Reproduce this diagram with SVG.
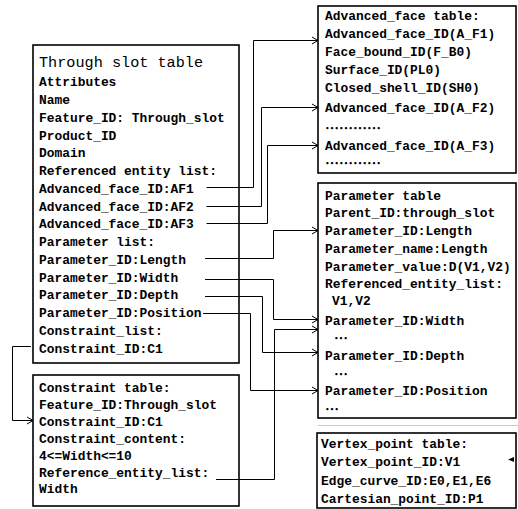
<svg xmlns="http://www.w3.org/2000/svg" width="518" height="509" viewBox="0 0 518 509">
  <style>
    .box { fill: #fff; stroke: #000; stroke-width: 1.6; }
    .t { font-family: "Liberation Mono", "DejaVu Sans Mono", monospace; font-size: 12.9px; font-weight: bold; fill: #000; }
    .title { font-family: "Liberation Mono", "DejaVu Sans Mono", monospace; font-size: 15.2px; fill: #000; }
    .dots { font-family: "Noto Sans CJK SC", sans-serif; font-size: 14px; font-weight: bold; fill: #000; dominant-baseline: central; }
    .wire { fill: none; stroke: #000; stroke-width: 1; }
  </style>
  <defs>
    <marker id="arrow" markerUnits="userSpaceOnUse" markerWidth="10" markerHeight="10" viewBox="-8 -5 10 10" refX="0" refY="0" orient="auto">
      <path d="M-6,-3.5 L0,0 L-6,3.5" fill="none" stroke="#000" stroke-width="1"/>
    </marker>
  </defs>
  <rect width="518" height="509" fill="#fff"/>

  <!-- Through slot feature table -->
  <g id="through-slot">
    <rect class="box" x="33" y="45" width="206" height="318"/>
    <text class="title" x="39" y="67">Through slot table</text>
    <text class="t" x="39" y="86.2">Attributes</text>
    <text class="t" x="39" y="104">Name</text>
    <text class="t" x="39" y="121.7">Feature_ID: Through_slot</text>
    <text class="t" x="39" y="139.5">Product_ID</text>
    <text class="t" x="39" y="157.3">Domain</text>
    <text class="t" x="39" y="175">Referenced entity list:</text>
    <text class="t" x="39" y="192.8">Advanced_face_ID:AF1</text>
    <text class="t" x="39" y="210.6">Advanced_face_ID:AF2</text>
    <text class="t" x="39" y="228.4">Advanced_face_ID:AF3</text>
    <text class="t" x="39" y="246.1">Parameter list:</text>
    <text class="t" x="39" y="263.9">Parameter_ID:Length</text>
    <text class="t" x="39" y="281.7">Parameter_ID:Width</text>
    <text class="t" x="39" y="299.4">Parameter_ID:Depth</text>
    <text class="t" x="39" y="317.2">Parameter_ID:Position</text>
    <text class="t" x="39" y="335">Constraint_list:</text>
    <text class="t" x="39" y="352.8">Constraint_ID:C1</text>
  </g>

  <!-- Constraint table -->
  <g id="constraint">
    <rect class="box" x="33" y="375" width="206" height="131"/>
    <text class="t" x="39" y="392">Constraint table:</text>
    <text class="t" x="39" y="408.9">Feature_ID:Through_slot</text>
    <text class="t" x="39" y="425.8">Constraint_ID:C1</text>
    <text class="t" x="39" y="442.7">Constraint_content:</text>
    <text class="t" x="39" y="459.6">4&lt;=Width&lt;=10</text>
    <text class="t" x="39" y="476.5">Reference_entity_list:</text>
    <text class="t" x="39" y="493.4">Width</text>
  </g>

  <!-- Advanced face table -->
  <g id="advanced-face">
    <rect class="box" x="318" y="6" width="198" height="167"/>
    <text class="t" x="325" y="19.5">Advanced_face table:</text>
    <text class="t" x="325" y="37.5">Advanced_face_ID(A_F1)</text>
    <text class="t" x="325" y="55.5">Face_bound_ID(F_B0)</text>
    <text class="t" x="325" y="73.5">Surface_ID(PL0)</text>
    <text class="t" x="325" y="91.5">Closed_shell_ID(SH0)</text>
    <text class="t" x="325" y="111.5">Advanced_face_ID(A_F2)</text>
    <text class="dots" x="325" y="127">…………</text>
    <text class="t" x="325" y="149.5">Advanced_face_ID(A_F3)</text>
    <text class="dots" x="325" y="162">…………</text>
  </g>

  <!-- Parameter table -->
  <g id="parameter">
    <rect class="box" x="318" y="183" width="198" height="235"/>
    <text class="t" x="325" y="199.5">Parameter table</text>
    <text class="t" x="325" y="217.2">Parent_ID:through_slot</text>
    <text class="t" x="325" y="234.5">Parameter_ID:Length</text>
    <text class="t" x="325" y="252.8">Parameter_name:Length</text>
    <text class="t" x="325" y="270.5">Parameter_value:D(V1,V2)</text>
    <text class="t" x="325" y="287.8">Referenced_entity_list:</text>
    <text class="t" x="332" y="305.2">V1,V2</text>
    <text class="t" x="325" y="324.5">Parameter_ID:Width</text>
    <text class="dots" x="334" y="337">…</text>
    <text class="t" x="325" y="359.5">Parameter_ID:Depth</text>
    <text class="dots" x="334" y="373">…</text>
    <text class="t" x="325" y="394.5">Parameter_ID:Position</text>
    <text class="dots" x="325" y="408">…</text>
  </g>

  <!-- Vertex point table -->
  <g id="vertex-point">
    <line x1="318" y1="425.5" x2="518" y2="425.5" stroke="#c8c8c8" stroke-width="1"/>
    <rect class="box" x="317" y="433" width="199" height="75"/>
    <text class="t" x="321" y="447.8">Vertex_point table:</text>
    <text class="t" x="321" y="466.2">Vertex_point_ID:V1</text>
    <text class="t" x="321" y="484.5">Edge_curve_ID:E0,E1,E6</text>
    <text class="t" x="321" y="502.8">Cartesian_point_ID:P1</text>
  </g>

  <!-- Connectors -->
  <g id="connectors">
    <path class="wire" d="M206.5,187.5 H253.5 V40.5 H318" marker-end="url(#arrow)"/>
    <path class="wire" d="M206.5,206.5 H261.5 V107.5 H318" marker-end="url(#arrow)"/>
    <path class="wire" d="M206.5,223.5 H267.5 V145.5 H318" marker-end="url(#arrow)"/>
    <path class="wire" d="M205,258.5 H273.5 V230.5 H318" marker-end="url(#arrow)"/>
    <path class="wire" d="M205,279.5 H273.5 V319.5 H318" marker-end="url(#arrow)"/>
    <path class="wire" d="M205,296.5 H262.5 V352.5 H318" marker-end="url(#arrow)"/>
    <path class="wire" d="M203,313.5 H250.5 V390.5 H318" marker-end="url(#arrow)"/>
    <path class="wire" d="M216,479.5 H274.5 V329.5 H318" marker-end="url(#arrow)"/>
    <path class="wire" d="M31,346.5 H12.5 V420.5 H33" marker-end="url(#arrow)"/>
    <path d="M508,459.5 L514,457 L514,462 Z" fill="#000"/>
  </g>
</svg>
